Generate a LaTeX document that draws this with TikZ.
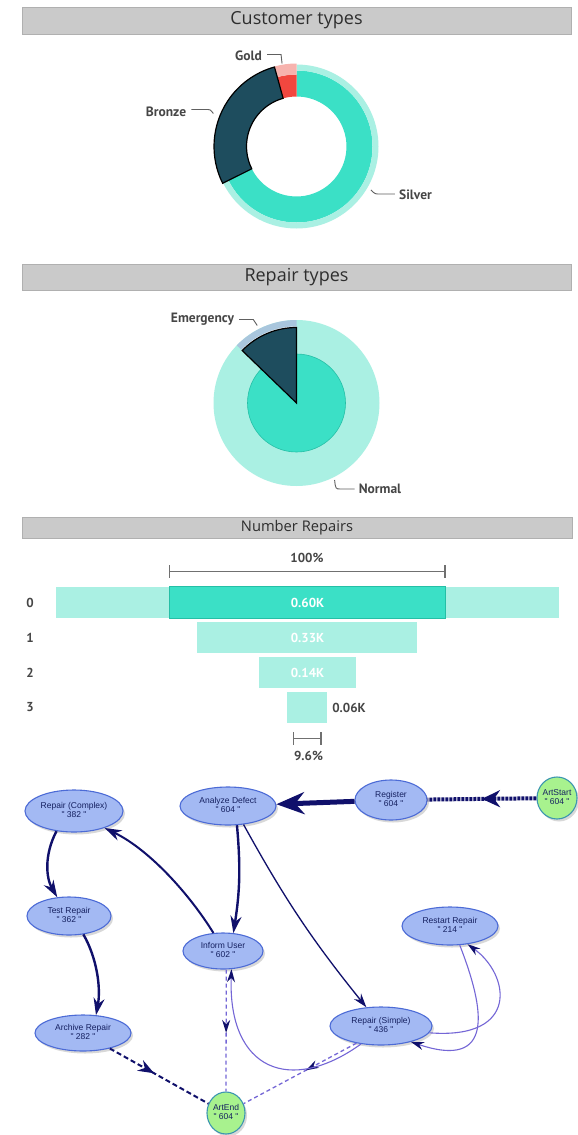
\documentclass[tikz,border=0pt]{standalone}
\usepackage{fontspec}
\setmainfont{Liberation Sans}
\newfontfamily\titlefont{Open Sans}
\newfontfamily\dinfont{PT Sans}
\newfontfamily\graphfont{Liberation Sans}
\usetikzlibrary{shapes.geometric,arrows.meta,decorations.markings,shadows}
\definecolor{barfill}{HTML}{CACACA}
\definecolor{barline}{HTML}{B0B0B0}
\definecolor{titlec}{HTML}{2E2E2E}
\definecolor{lblc}{HTML}{464646}
\definecolor{leaderc}{HTML}{606060}
\definecolor{tq}{HTML}{3BE0C6}
\definecolor{tqlight}{HTML}{AAF0E3}
\definecolor{tqedge}{HTML}{25BFA6}
\definecolor{slicenavy}{HTML}{1E4D5E}
\definecolor{goldred}{HTML}{F2473F}
\definecolor{goldlight}{HTML}{F7B3AE}
\definecolor{emlight}{HTML}{A9C6DD}
\definecolor{navyc}{HTML}{10106B}
\definecolor{lavc}{HTML}{7466D6}
\definecolor{nodefill}{HTML}{A3B9F3}
\definecolor{nodeline}{HTML}{4C6BD6}
\definecolor{startfill}{HTML}{A8F28E}
\definecolor{startline}{HTML}{3C96B0}
\definecolor{nodetext}{HTML}{152060}
\definecolor{bracketc}{HTML}{707070}
\newcommand{\ringseg}[5]{\path[#1] (#2:#4pt) arc[start angle=#2, end angle=#3, radius=#4pt] -- (#3:#5pt) arc[start angle=#3, end angle=#2, radius=#5pt] -- cycle;}
\newcommand{\nt}[2]{\makebox[0pt]{\begin{tabular}{@{}c@{}}#1\\" #2 "\end{tabular}}}
\begin{document}
\begin{tikzpicture}[x=1pt,y=-1pt,
  bar/.style={draw=barline, fill=barfill, line width=0.8pt, inner sep=0pt, text=titlec},
  lbl/.style={font=\dinfont\bfseries\fontsize{13.5}{13.5}\selectfont, text=lblc, inner sep=0pt},
  flbl/.style={font=\dinfont\bfseries\fontsize{13}{13}\selectfont, text=lblc, inner sep=0pt},
  wlbl/.style={font=\dinfont\bfseries\fontsize{13}{13}\selectfont, text=white, inner sep=0pt},
  leader/.style={draw=leaderc, line width=0.9pt},
  bracket/.style={draw=bracketc, line width=1.2pt},
  gnode/.style={ellipse, draw=nodeline, line width=1.1pt, fill=nodefill, inner sep=0pt,
     text=nodetext, font=\graphfont\fontsize{8.5}{9}\selectfont,
     drop shadow={opacity=0.3, shadow xshift=2pt, shadow yshift=-2.5pt}},
  snode/.style={gnode, fill=startfill, draw=startline},
  midtip/.style={decoration={markings, mark=at position #1 with {\arrow{>}}}, postaction={decorate}},
  thicke/.style={draw=navyc, line width=2.4pt, -{Stealth[length=17pt,width=11pt]}},
  thine/.style={draw=navyc, line width=1.3pt, -{Stealth[length=14pt,width=9pt]}},
  lave/.style={draw=lavc, line width=1.1pt, -{Stealth[length=13pt,width=8pt,color=navyc]}},
  lavdash/.style={draw=lavc, line width=1.3pt, dash pattern=on 4pt off 3pt}
]
\fill[white] (0,0) rectangle (578,1135);
\useasboundingbox (0,0) rectangle (578,1135);

% ---------- Customer types ----------
\node[bar, minimum width=549pt, minimum height=27pt, font=\titlefont\fontsize{18}{18}\selectfont] (bar1) at (296.5,20.5) {Customer types};
\begin{scope}[shift={(296.5,146.5)}]
  \ringseg{fill=tq}{-153.5}{90}{50}{76}
  \ringseg{fill=tqlight}{-153.5}{90}{76}{82}
  \ringseg{fill=goldred}{90}{105.5}{50}{72}
  \ringseg{fill=goldlight}{90}{105.5}{72}{83}
  \ringseg{fill=slicenavy, draw=black, line width=1.2pt}{105.5}{206.5}{50}{82.5}
\end{scope}
\node[lbl] (lgold) at (248.5,55.5) {Gold};
\node[lbl] (lbronze) at (166,111.5) {Bronze};
\node[lbl] (lsilver) at (415.5,195) {Silver};
\draw[leader] (lgold.east) ++(5,-1) -- ++(14,0) -- ++(1,9);
\draw[leader] (lbronze.east) ++(5,-2) -- ++(15,0) .. controls ++(4,0) .. ++(7,4);
\draw[leader] (lsilver.west) ++(-4,-1) -- ++(-15,0) .. controls ++(-5,0) .. ++(-9,-4);

% ---------- Repair types ----------
\node[bar, minimum width=549pt, minimum height=26pt, font=\titlefont\fontsize{18}{18}\selectfont] (bar2) at (296.5,277) {Repair types};
\begin{scope}[shift={(296.5,403)}]
  \fill[tqlight] (0,0) circle[radius=83pt];
  \fill[emlight] (0,0) -- (90:83pt) arc[start angle=90, end angle=136, radius=83pt] -- cycle;
  \fill[white] (0,0) -- (90:76.5pt) arc[start angle=90, end angle=136, radius=76.5pt] -- cycle;
  \fill[tq, draw=tqedge, line width=0.6pt] (0,0) circle[radius=49pt];
  \filldraw[fill=slicenavy, draw=black, line width=1.2pt] (0,0) -- (90:75.5pt) arc[start angle=90, end angle=136, radius=75.5pt] -- cycle;
\end{scope}
\node[lbl] (lemerg) at (202.5,319.5) {Emergency};
\node[lbl] (lnormal) at (380,489) {Normal};
\draw[leader] (lemerg.east) ++(5,0) -- ++(14,0) -- ++(4,6);
\draw[leader] (lnormal.west) ++(-4,0) -- ++(-14,0) .. controls ++(-5,0) .. ++(-6,-9);

% ---------- Number Repairs ----------
\node[bar, minimum width=550pt, minimum height=21pt, font=\titlefont\fontsize{14.7}{15}\selectfont] (bar3) at (297,527.5) {Number Repairs};
\node[flbl] (p100) at (307,557.5) {100\%};
\draw[bracket] (169.3,571.7) -- (445,571.7);
\draw[bracket] (169.3,565) -- (169.3,578);
\draw[bracket] (445,565) -- (445,578);
\fill[tqlight] (55.7,586.7) rectangle (559,618.3);
\filldraw[fill=tq, draw=tqedge, line width=1pt] (169.3,586.7) rectangle (445,618.3);
\fill[tqlight] (197.3,621.7) rectangle (417.3,653.3);
\fill[tqlight] (259,656.7) rectangle (355.7,688.3);
\fill[tqlight] (287.3,691.7) rectangle (327.3,722.7);
\node[wlbl] (v0) at (307.5,603) {0.60K};
\node[wlbl] (v1) at (307.5,637.5) {0.33K};
\node[wlbl] (v2) at (307.5,672.5) {0.14K};
\node[flbl] (v3) at (349,707.5) {0.06K};
\node[flbl] (r0) at (30,603.3) {0};
\node[flbl] (r1) at (30,638.3) {1};
\node[flbl] (r2) at (30,673.3) {2};
\node[flbl] (r3) at (30,707.3) {3};
\draw[bracket] (293.3,738.3) -- (321,738.3);
\draw[bracket] (293.3,732) -- (293.3,745);
\draw[bracket] (321,732) -- (321,745);
\node[flbl] (p96) at (308.5,755.5) {9.6\%};

% ---------- Process graph ----------
\node[gnode, minimum width=98pt, minimum height=42pt] (RC) at (74,811) {\nt{Repair (Complex)}{382}};
\node[gnode, minimum width=96pt, minimum height=38pt] (AD) at (228,806) {\nt{Analyze Defect}{604}};
\node[gnode, minimum width=72pt, minimum height=40pt] (RG) at (391,800) {\nt{Register}{604}};
\node[snode, minimum width=40pt, minimum height=42pt] (AS) at (557,798) {\nt{ArtStart}{604}};
\node[gnode, minimum width=84pt, minimum height=38pt] (TR) at (69,916) {\nt{Test Repair}{362}};
\node[gnode, minimum width=80pt, minimum height=36pt] (IU) at (223,951) {\nt{Inform User}{602}};
\node[gnode, minimum width=96pt, minimum height=38pt] (RR) at (450,926) {\nt{Restart Repair}{214}};
\node[gnode, minimum width=96pt, minimum height=36pt] (AR) at (83,1033) {\nt{Archive Repair}{282}};
\node[gnode, minimum width=102pt, minimum height=38pt] (RS) at (381,1026) {\nt{Repair (Simple)}{436}};
\node[snode, minimum width=38pt, minimum height=42pt] (AE) at (226,1113) {\nt{ArtEnd}{604}};

% edges
\draw[draw=navyc, line width=4pt, dash pattern=on 3pt off 1pt,
      >={Stealth[length=18pt,width=17pt,color=navyc]}, midtip=0.5] (AS) -- (RG);
\draw[draw=navyc, line width=5pt, -{Stealth[length=28pt,width=22pt]}] (RG) -- (AD);
\draw[thicke] (AD.295) to[bend left=7] (IU.60);
\draw[thine] (AD.310) to[bend right=5] (RS.128);
\draw[thicke, line width=2pt] (IU.118) .. controls (190,895) and (150,850) .. (RC.331);
\draw[thicke] (RC.229) .. controls (44,855) and (46,878) .. (TR.122);
\draw[thicke] (TR.308) .. controls (97,958) and (101,988) .. (AR.54);
\draw[draw=navyc, line width=2pt, dash pattern=on 5pt off 3pt,
      >={Stealth[length=16pt,width=12pt,color=navyc]}, midtip=0.45] (AR.330) -- (AE.152);
\draw[lavdash, >={Stealth[length=13pt,width=8pt,color=navyc]}, midtip=0.52] (IU.280) -- (AE.90);
\draw[lavdash, >={Stealth[length=13pt,width=8pt,color=navyc]}, midtip=0.45] (RS.215) -- (AE.28);
\draw[lave] (RS.222) .. controls (290,1095) and (228,1070) .. (IU.295);
\draw[lave] (RR.297) .. controls (485,1010) and (495,1070) .. (RS.332);
\draw[lave] (RS.352) .. controls (520,1040) and (510,975) .. (RR.314);
\end{tikzpicture}
\end{document}
